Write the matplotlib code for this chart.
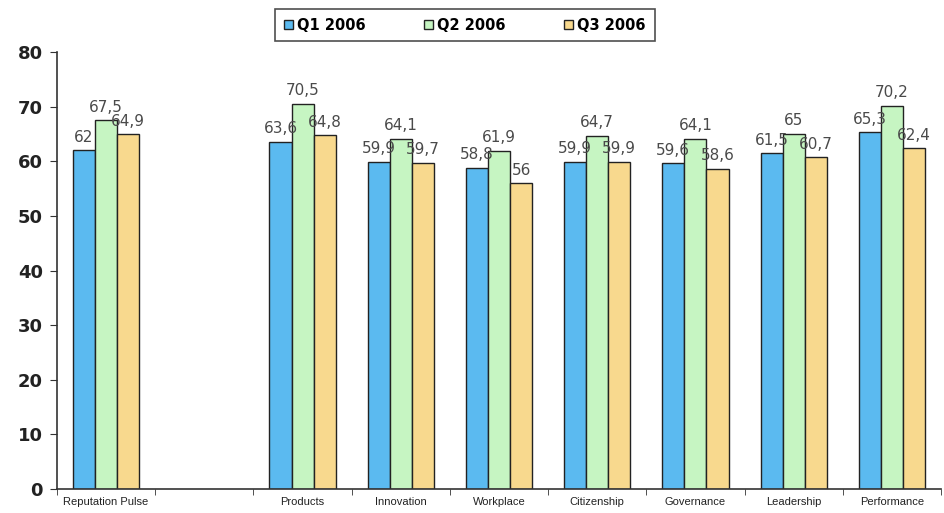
import matplotlib
matplotlib.use("Agg")
import matplotlib.pyplot as plt
import numpy as np

categories = ["Reputation Pulse", "", "Products", "Innovation", "Workplace",
              "Citizenship", "Governance", "Leadership", "Performance"]
series_names = ["Q1 2006", "Q2 2006", "Q3 2006"]
q1 = [62.0, np.nan, 63.6, 59.9, 58.8, 59.9, 59.6, 61.5, 65.3]
q2 = [67.5, np.nan, 70.5, 64.1, 61.9, 64.7, 64.1, 65.0, 70.2]
q3 = [64.9, np.nan, 64.8, 59.7, 56.0, 59.9, 58.6, 60.7, 62.4]
y_ticks = [0, 10, 20, 30, 40, 50, 60, 70, 80]

colors = ["#5BBAF0", "#C6F5C2", "#F8D98E"]

fig = plt.figure(figsize=(9.45, 5.13), dpi=100)
ax = fig.add_axes([57/945, 24/513, 884/945, 437/513])

x = np.arange(len(categories))
w = 0.225
for i, (vals, c, name) in enumerate(zip([q1, q2, q3], colors, series_names)):
    pos = x + (i - 1) * w
    ax.bar(pos, vals, width=w, color=c, edgecolor="#222222", linewidth=1.0, label=name)
    for p, v in zip(pos, vals):
        if np.isnan(v):
            continue
        txt = ("%g" % v).replace(".", ",")
        ax.text(p, v + 1.0, txt, ha="center", va="bottom", fontsize=11,
                color="#4a4a4a", family="DejaVu Sans")

ax.set_xlim(-0.5, len(categories) - 0.5)
ax.set_ylim(0, 80)
ax.set_yticks(y_ticks)
ax.set_yticklabels([str(t) for t in y_ticks], fontsize=13, fontweight="bold",
                   family="DejaVu Sans", color="#222222")
ax.set_xticks(x)
ax.set_xticklabels(categories, fontsize=8, family="Liberation Sans", color="#222222")
ax.tick_params(axis="x", length=0, pad=6)
ax.set_xticks(np.arange(len(categories) + 1) - 0.5, minor=True)
ax.tick_params(axis="x", which="minor", length=4, direction="out", color="#333333")
ax.tick_params(axis="y", length=5, direction="out", color="#333333", pad=5)
for s in ["top", "right"]:
    ax.spines[s].set_visible(False)
for s in ["left", "bottom"]:
    ax.spines[s].set_color("#333333")
    ax.spines[s].set_linewidth(1.2)

leg = fig.legend(loc="center", bbox_to_anchor=(465/945, 1 - 25/513), ncol=3,
                 frameon=True, fancybox=False, edgecolor="#222222",
                 prop={"family": "DejaVu Sans", "weight": "bold", "size": 10.5},
                 handlelength=0.6, handleheight=0.6, handletextpad=0.3,
                 columnspacing=4.0, borderpad=0.6, borderaxespad=0.0)
leg.get_frame().set_linewidth(1.2)

fig.savefig("out.png", dpi=100)
